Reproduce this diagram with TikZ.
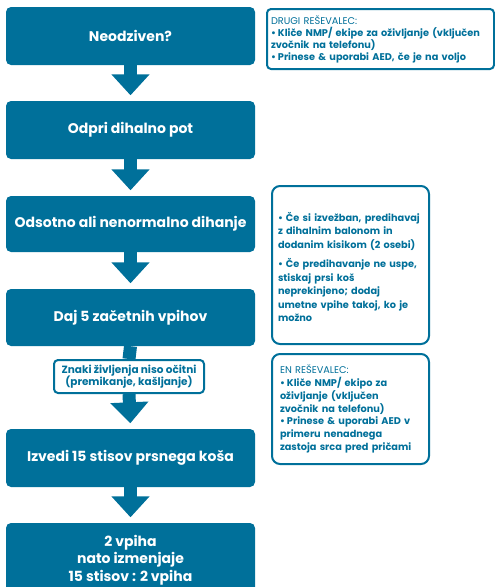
\documentclass[tikz,border=0pt]{standalone}
\usepackage{fontspec}
\setmainfont{Poppins}
\usetikzlibrary{arrows.meta}
\definecolor{cprblue}{HTML}{00709A}

% bullet item with hanging indent
\newcommand\bul[2][7pt]{\par\hangindent=#1\hangafter=1\noindent\hbox to #1{\textbullet\hss}#2}
% keep the hand-set line breaks free of hyphens
\newcommand\nohyph{\hyphenpenalty=10000\relax\exhyphenpenalty=10000\relax}

\begin{document}
\begin{tikzpicture}[x=1pt,y=-1pt,
  mainbox/.style={fill=cprblue, rounded corners=5pt, minimum width=249pt,
    text=white, font=\fontsize{14}{17.5}\selectfont\bfseries, align=center, inner sep=0pt},
  notebox/.style={draw=cprblue, line width=2pt, fill=white, text=cprblue,
    font=\fontsize{9.75}{12}\selectfont\bfseries\nohyph,
    align=left, anchor=north west},
  checkbox/.style={draw=cprblue, line width=2pt, fill=white, rounded corners=4pt,
    text=cprblue, font=\fontsize{10.5}{12.5}\selectfont\bfseries, align=center,
    minimum width=150pt, minimum height=33pt, inner sep=0pt},
  flow/.style={cprblue, line width=13pt, -{Triangle[width=37pt,length=21pt]}, shorten >=5.5pt},
  stem/.style={cprblue, line width=13pt}
]
\useasboundingbox (0,0) rectangle (495,587);

% main sequence
\node[mainbox, minimum height=58pt] (b1) at (130.5,36) {Neodziven?};
\node[mainbox, minimum height=58pt] (b2) at (130.5,130) {Odpri dihalno pot};
\node[mainbox, minimum height=56pt] (b3) at (130.5,224) {Odsotno ali nenormalno dihanje};
\node[mainbox, minimum height=57pt] (b4) at (130.5,317.5) {Daj 5 začetnih vpihov};
\node[checkbox] (c) at (129,376.5) {Znaki življenja niso očitni\\(premikanje, kašljanje)};
\node[mainbox, minimum height=58pt] (b5) at (130.5,458) {Izvedi 15 stisov prsnega koša};
\node[mainbox, minimum height=74pt] (b6) at (130.5,560) {2 vpiha\\nato izmenjaje\\15 stisov : 2 vpiha};

% connectors
\draw[flow] (b1.south) -- (b2.north);
\draw[flow] (b2.south) -- (b3.north);
\draw[flow] (b3.south) -- (b4.north);
\draw[stem] (b4.south) -- (c.north);
\draw[flow] (c.south) -- (b5.north);
\draw[flow] (b5.south) -- (b6.north);

% side notes
\node[notebox, rounded corners=4pt, minimum width=227pt, minimum height=60pt,
  inner xsep=4pt, text width=219pt] (r1) at (266,8)
  {{\mdseries DRUGI REŠEVALEC:}
   \bul{Kliče NMP/ ekipe za oživljanje (vključen\\zvočnik na telefonu)}
   \bul{Prinese \& uporabi AED, če je na voljo}};

\node[notebox, rounded corners=8pt, minimum width=157pt, minimum height=158pt,
  inner xsep=6pt, text width=145pt,
  font=\fontsize{9.75}{13.5}\selectfont\bfseries\nohyph] (r2) at (271,185)
  {\bul[8pt]{Če si izvežban, predihavaj\\z dihalnim balonom in\\dodanim kisikom (2 osebi)}\par\vspace{6pt}
   \bul[8pt]{Če predihavanje ne uspe,\\stiskaj prsi koš\\neprekinjeno; dodaj\\umetne vpihe takoj, ko je\\možno}};

\node[notebox, rounded corners=8pt, minimum width=157pt, minimum height=110pt,
  inner xsep=8pt, text width=141pt,
  font=\fontsize{9.75}{12.8}\selectfont\bfseries\nohyph] (r3) at (271,353)
  {{\mdseries EN REŠEVALEC:}
   \bul[7pt]{Kliče NMP/ ekipo za\\oživljanje (vključen\\zvočnik na telefonu)}
   \bul[7pt]{Prinese \& uporabi AED v\\primeru nenadnega\\zastoja srca pred pričami}};
\end{tikzpicture}
\end{document}
